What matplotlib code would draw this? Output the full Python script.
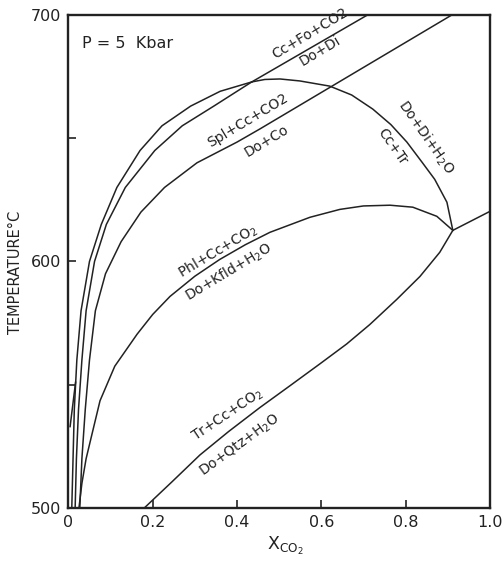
import numpy as np
import matplotlib
matplotlib.use("Agg")
import matplotlib.pyplot as plt

# reaction curves: X(CO2) vs temperature (C)
# outer curve, continues into the Do+Di+H2O / Cc+Tr dome
outer_x = [0.008, 0.011, 0.014, 0.020, 0.030, 0.050, 0.078, 0.115, 0.170, 0.222, 0.290, 0.360, 0.435]
outer_t = [500, 520, 540, 560, 580, 600, 615, 630, 645, 655, 663, 669, 672.8]
# small branch at the foot of the outer curve
branch_x = [0.004, 0.017]
branch_t = [533, 551]

dome_x = [0.435, 0.466, 0.502, 0.549, 0.620, 0.672, 0.722, 0.765, 0.803, 0.840, 0.869, 0.898, 0.912]
dome_t = [672.8, 673.8, 674.0, 673.2, 671.1, 667.5, 661.8, 655.5, 648.4, 640.0, 633.3, 624.0, 612.6]

# Cc+Fo+CO2 = Do+Di
fo_x = [0.016, 0.019, 0.024, 0.032, 0.042, 0.062, 0.090, 0.135, 0.205, 0.270, 0.345, 0.400, 0.435, 0.710]
fo_t = [500, 520, 540, 560, 580, 600, 615, 630, 645, 655, 663, 669, 672.8, 700]

# Spl+Cc+CO2 = Do+Co
spl_x = [0.027, 0.032, 0.040, 0.050, 0.064, 0.088, 0.125, 0.172, 0.228, 0.305, 0.400, 0.454, 0.910]
spl_t = [500, 520, 540, 560, 580, 595, 608, 620, 630, 640, 648.4, 653.7, 700]

# Phl+Cc+CO2 = Do+Kfld+H2O
phl_x = [0.025, 0.032, 0.042, 0.056, 0.075, 0.110, 0.163, 0.200, 0.241, 0.300, 0.359, 0.420,
         0.478, 0.573, 0.644, 0.700, 0.763, 0.817, 0.874, 0.912]
phl_t = [500, 510, 520, 530, 543.5, 557.5, 570.5, 578.5, 585.8, 594.0, 600.8, 606.8,
         611.8, 617.9, 621.1, 622.5, 622.8, 622.0, 618.3, 612.6]

# Tr+Cc+CO2 = Do+Qtz+H2O
tr_x = [0.180, 0.245, 0.312, 0.380, 0.454, 0.525, 0.597, 0.660, 0.715, 0.779, 0.834, 0.881, 0.912]
tr_t = [500, 510.5, 521.5, 531.0, 540.7, 549.5, 558.5, 566.5, 574.4, 584.6, 593.9, 603.7, 612.6]

# from the invariant point to the right edge
inv_x = [0.912, 1.0]
inv_t = [612.6, 620.3]

x_ticks = [0, 0.2, 0.4, 0.6, 0.8, 1.0]
x_ticklabels = ['0', '0.2', '0.4', '0.6', '0.8', '1.0']
y_ticks = [500, 550, 600, 650, 700]
y_ticklabels = ['500', '', '600', '', '700']

# curve labels: text, x, T, rotation
labels = [
    ('Cc+Fo+CO2', 0.573, 692.3, 31),
    ('Do+Di', 0.597, 685.6, 31),
    ('Spl+Cc+CO2', 0.426, 657.0, 31),
    ('Do+Co', 0.471, 648.9, 31),
    (r'Do+Di+H$_2$O', 0.848, 650.5, -55),
    ('Cc+Tr', 0.768, 646.5, -55),
    (r'Phl+Cc+CO$_2$', 0.355, 604.2, 31),
    (r'Do+Kfld+H$_2$O', 0.380, 595.8, 31),
    (r'Tr+Cc+CO$_2$', 0.379, 537.8, 34),
    (r'Do+Qtz+H$_2$O', 0.407, 525.6, 36),
]

ink = '#222222'

fig = plt.figure(figsize=(5.03, 5.61), dpi=100)
ax = fig.add_axes([0.136, 0.0945, 0.838, 0.879])

for xs, ts in [(outer_x, outer_t), (branch_x, branch_t), (dome_x, dome_t), (fo_x, fo_t),
               (spl_x, spl_t), (phl_x, phl_t), (tr_x, tr_t), (inv_x, inv_t)]:
    ax.plot(xs, ts, color=ink, lw=1.1)

for text, x, t, rot in labels:
    ax.text(x, t, text, rotation=rot, rotation_mode='anchor', ha='center', va='center',
            fontsize=10, color=ink)

ax.text(0.032, 688.4, 'P = 5  Kbar', fontsize=11.5, ha='left', va='center', color=ink)

ax.set_xlim(0, 1)
ax.set_ylim(500, 700)
ax.set_xticks(x_ticks)
ax.set_xticklabels(x_ticklabels)
ax.set_yticks(y_ticks)
ax.set_yticklabels(y_ticklabels)
ax.tick_params(direction='in', length=6, width=1.2, labelsize=11.5, colors=ink, pad=5)

for sp in ax.spines.values():
    sp.set_linewidth(1.7)
    sp.set_color(ink)

ax.set_ylabel('TEMPERATURE\u00b0C', fontsize=10.5, color=ink)
ax.yaxis.set_label_coords(-0.108, 0.477)
ax.set_xlabel(r'X$_{\mathrm{CO_2}}$', fontsize=12.5, color=ink)
ax.xaxis.set_label_coords(0.514, -0.055)

plt.savefig('out.png', dpi=100)
